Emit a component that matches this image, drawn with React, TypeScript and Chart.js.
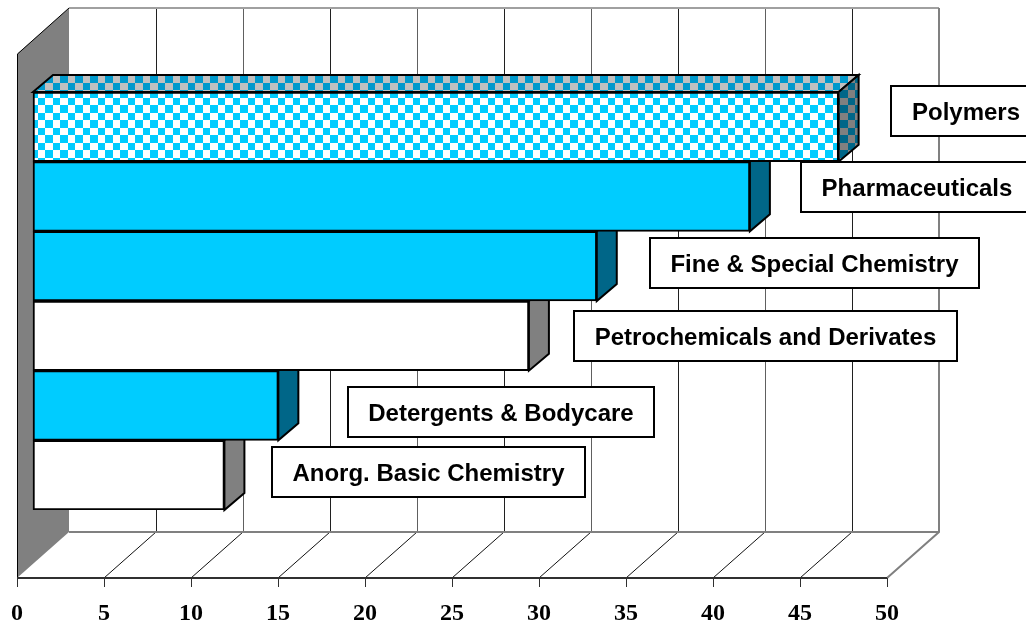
import React, { useEffect, useRef } from "react";
import { Chart, registerables } from "chart.js";

Chart.register(...registerables);

const categories = [
  "Polymers",
  "Pharmaceuticals",
  "Fine & Special Chemistry",
  "Petrochemicals and Derivates",
  "Detergents & Bodycare",
  "Anorg. Basic Chemistry",
];
const values = [46.3, 41.2, 32.4, 28.5, 14.1, 11.0];
const fillKinds = ["pattern", "blue", "blue", "white", "blue", "white"];
const tickStep = 5;
const axisMax = 50;

// callout boxes [left, top, right, bottom, textCentre, textMiddle]
const calloutBoxes = [
  [891, 86, 1040, 136, 966, 112],
  [801, 162, 1040, 212, 917, 188],
  [650, 238, 979, 288, 814.5, 264],
  [574, 311, 957, 361, 765.5, 337],
  [348, 387, 654, 437, 501, 413],
  [272, 447, 585, 497, 428.5, 473],
];

const WALL = { dx: 52, dy: -46, front: 578, top: 54 };
const BAR_DEPTH = { dx: 20, dy: -17 };

function checker(a: string, b: string) {
  const c = document.createElement("canvas");
  c.width = 15;
  c.height = 15;
  const g = c.getContext("2d")!;
  g.fillStyle = a;
  g.fillRect(0, 0, 15, 15);
  g.fillStyle = b;
  g.fillRect(0, 0, 8, 8);
  g.fillRect(8, 8, 7, 7);
  return g.createPattern(c, "repeat")!;
}

const BLUE = "#00CCFF";

export default function App() {
  const ref = useRef<HTMLCanvasElement>(null);
  useEffect(() => {
    document.body.style.margin = "0";
    const canvas = ref.current!;
    const ctx0 = canvas.getContext("2d")!;
    const front = checker("#FFFFFF", BLUE);
    const topPat = checker("#C0C0C0", "#0099CC");
    const sidePat = checker("#808080", "#006688");
    const fills = fillKinds.map((k) => (k === "pattern" ? front : k === "blue" ? BLUE : "#FFFFFF"));

    const scene = {
      id: "scene",
      beforeDatasetsDraw(chart: any) {
        const ctx = chart.ctx as CanvasRenderingContext2D;
        const xs = chart.scales.x;
        const x0 = xs.getPixelForValue(0);
        const xEnd = xs.getPixelForValue(axisMax);
        const backY = WALL.front + WALL.dy;
        const topY = WALL.top + WALL.dy;
        ctx.save();
        // left wall
        ctx.fillStyle = "#808080";
        ctx.beginPath();
        ctx.moveTo(x0, WALL.top);
        ctx.lineTo(x0 + WALL.dx, topY);
        ctx.lineTo(x0 + WALL.dx, backY);
        ctx.lineTo(x0, WALL.front);
        ctx.closePath();
        ctx.fill();
        ctx.strokeStyle = "#000";
        ctx.lineWidth = 1;
        ctx.beginPath();
        ctx.moveTo(x0 + 0.5, WALL.front);
        ctx.lineTo(x0 + 0.5, WALL.top);
        ctx.lineTo(x0 + WALL.dx, topY);
        ctx.stroke();
        // grid
        for (let v = tickStep; v <= axisMax; v += tickStep) {
          const px = Math.round(xs.getPixelForValue(v));
          ctx.strokeStyle = v % 10 === 5 ? "#202020" : "#606060";
          ctx.lineWidth = 1;
          ctx.beginPath();
          ctx.moveTo(px + WALL.dx + 0.5, topY);
          ctx.lineTo(px + WALL.dx + 0.5, backY);
          ctx.stroke();
          if (v < axisMax) {
            ctx.strokeStyle = "#101010";
            ctx.beginPath();
            ctx.moveTo(px, WALL.front);
            ctx.lineTo(px + WALL.dx, backY);
            ctx.stroke();
          }
        }
        // top edge, back floor edge, right edges
        ctx.strokeStyle = "#A0A0A0";
        ctx.lineWidth = 2;
        ctx.beginPath();
        ctx.moveTo(x0 + WALL.dx, topY);
        ctx.lineTo(xEnd + WALL.dx, topY);
        ctx.stroke();
        ctx.strokeStyle = "#808080";
        ctx.beginPath();
        ctx.moveTo(x0 + WALL.dx, backY);
        ctx.lineTo(xEnd + WALL.dx, backY);
        ctx.moveTo(xEnd + WALL.dx, topY);
        ctx.lineTo(xEnd + WALL.dx, backY);
        ctx.lineTo(xEnd, WALL.front);
        ctx.stroke();
        // front edge and ticks
        ctx.strokeStyle = "#303030";
        ctx.beginPath();
        ctx.moveTo(x0, WALL.front);
        ctx.lineTo(xEnd, WALL.front);
        ctx.stroke();
        ctx.lineWidth = 1;
        for (let v = 0; v <= axisMax; v += tickStep) {
          const px = Math.round(xs.getPixelForValue(v)) + 0.5;
          ctx.beginPath();
          ctx.moveTo(px, WALL.front);
          ctx.lineTo(px, WALL.front + 9);
          ctx.stroke();
        }
        // bar depth faces
        const bars = chart.getDatasetMeta(0).data;
        ctx.strokeStyle = "#000";
        ctx.lineWidth = 2;
        ctx.lineJoin = "miter";
        bars.forEach((b: any, i: number) => {
          const h = b.height / 2;
          const t = b.y - h;
          const u = b.y + h;
          const kind = fillKinds[i];
          if (i === 0) {
            ctx.fillStyle = topPat;
            ctx.beginPath();
            ctx.moveTo(b.base, t);
            ctx.lineTo(b.base + BAR_DEPTH.dx, t + BAR_DEPTH.dy);
            ctx.lineTo(b.x + BAR_DEPTH.dx, t + BAR_DEPTH.dy);
            ctx.lineTo(b.x, t);
            ctx.closePath();
            ctx.fill();
            ctx.stroke();
          }
          ctx.fillStyle = kind === "pattern" ? sidePat : kind === "blue" ? "#006688" : "#808080";
          ctx.beginPath();
          ctx.moveTo(b.x, t);
          ctx.lineTo(b.x + BAR_DEPTH.dx, t + BAR_DEPTH.dy);
          ctx.lineTo(b.x + BAR_DEPTH.dx, u + BAR_DEPTH.dy);
          ctx.lineTo(b.x, u);
          ctx.closePath();
          ctx.fill();
          ctx.stroke();
        });
        ctx.restore();
      },
      afterDatasetsDraw(chart: any) {
        const ctx = chart.ctx as CanvasRenderingContext2D;
        ctx.save();
        ctx.font = "bold 24px 'Liberation Sans'";
        ctx.textAlign = "center";
        ctx.textBaseline = "middle";
        categories.forEach((name, i) => {
          const [l, t, r, b, cx, cy] = calloutBoxes[i];
          ctx.fillStyle = "#fff";
          ctx.fillRect(l, t, r - l, b - t);
          ctx.strokeStyle = "#000";
          ctx.lineWidth = 2;
          ctx.strokeRect(l, t, r - l, b - t);
          ctx.fillStyle = "#000";
          ctx.fillText(name, cx, cy + 1);
        });
        ctx.restore();
      },
    };

    const chart = new Chart(ctx0, {
      type: "bar",
      data: {
        labels: categories,
        datasets: [
          {
            data: values,
            xAxisID: "xBar",
            yAxisID: "y",
            backgroundColor: fills,
            borderColor: "#000000",
            borderWidth: 2,
            borderSkipped: false,
            barPercentage: 1,
            categoryPercentage: 1,
          },
        ],
      },
      options: {
        indexAxis: "y",
        responsive: false,
        animation: false,
        layout: { autoPadding: false, padding: { left: 17, right: 139, top: 92, bottom: 0 } },
        plugins: { legend: { display: false }, tooltip: { enabled: false } },
        scales: {
          y: { type: "category", display: false, grid: { display: false } },
          xBar: { type: "linear", display: false, min: -0.92, max: axisMax - 0.92 },
          x: {
            type: "linear",
            position: "bottom",
            min: 0,
            max: axisMax,
            afterFit(scale: any) {
              scale.height = 114;
            },
            grid: {
              display: true,
              drawOnChartArea: false,
              tickColor: "rgba(0,0,0,0)",
              tickLength: 89,
            },
            border: { display: false },
            ticks: {
              stepSize: tickStep,
              autoSkip: false,
              maxRotation: 0,
              padding: 0,
              color: "#000000",
              font: { family: "'Liberation Serif'", weight: "bold", size: 24 },
            },
          },
        },
      },
      plugins: [scene],
    } as any);
    return () => chart.destroy();
  }, []);
  return <canvas ref={ref} width={1026} height={624} style={{ display: "block" }} />;
}
